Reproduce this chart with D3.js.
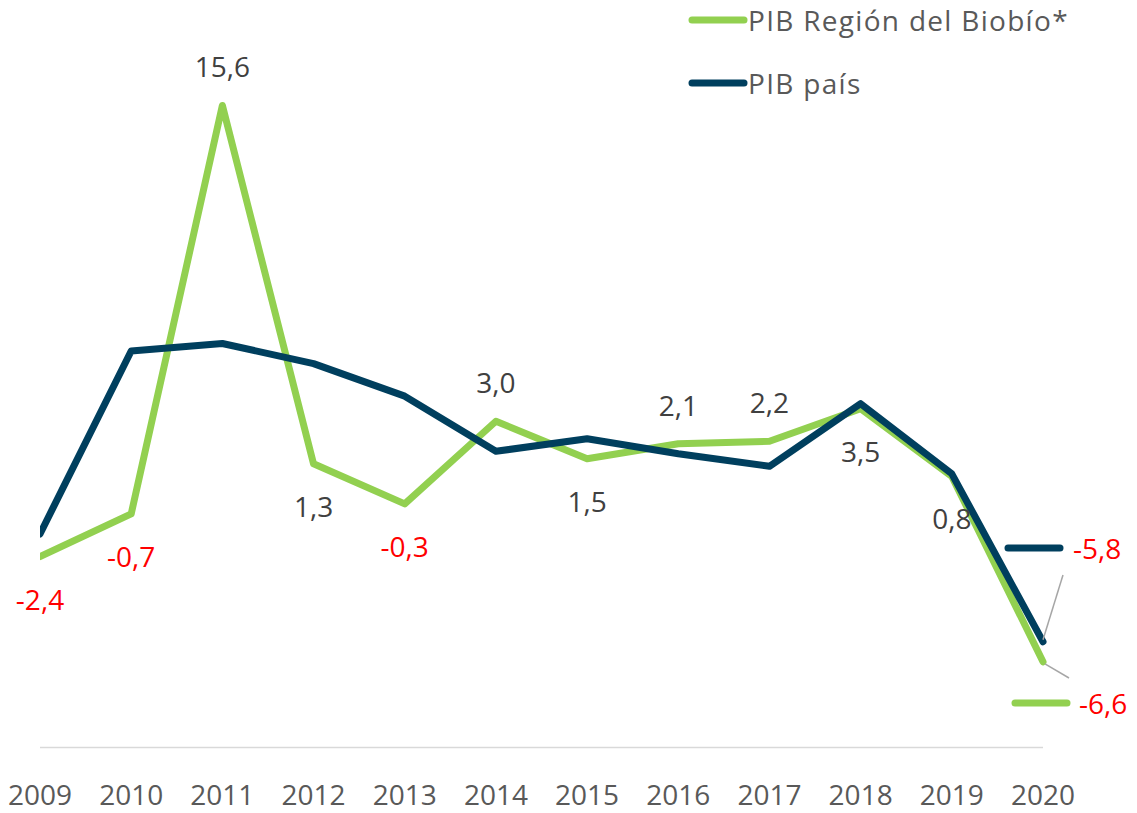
<!DOCTYPE html>
<html>
<head>
<meta charset="utf-8">
<script src="https://cdn.jsdelivr.net/npm/d3@7"></script>
<style>
  body { margin: 0; background: #fff; }
  svg text { font-family: "Open Sans", "Noto Sans", sans-serif; }
</style>
</head>
<body>
<svg id="chart"></svg>
<script>
var width = 1137,
  height = 813;

// data
var years = [2009, 2010, 2011, 2012, 2013, 2014, 2015, 2016, 2017, 2018, 2019, 2020];
var biobio = [-2.4, -0.7, 15.6, 1.3, -0.3, 3.0, 1.5, 2.1, 2.2, 3.5, 0.8, -6.6];
var pais = [-1.5, 5.8, 6.1, 5.3, 4.0, 1.8, 2.3, 1.7, 1.2, 3.7, 0.9, -5.8];
var seriesNames = ['PIB Región del Biobío*', 'PIB país'];

// label side for the green series (last point handled separately)
var labelSide = ['below', 'below', 'above', 'below', 'below', 'above', 'below', 'above', 'above', 'below', 'below', null];

var green = '#92d050',
  blue = '#003f5e';

var svg = d3.select('#chart')
  .attr('width', width)
  .attr('height', height);

var x = d3.scalePoint()
  .domain(years)
  .range([40, 1043]);

var y = d3.scaleLinear()
  .domain([-10, 16])
  .range([747, 747 - 26 * 25.06]);

// comma decimals, plain hyphen for negatives
var fmt = function(v) { return v.toFixed(1).replace('.', ','); };

svg.append('defs').append('clipPath')
  .attr('id', 'clip')
  .append('rect')
  .attr('x', 40)
  .attr('y', 0)
  .attr('width', width - 40)
  .attr('height', height);

// baseline axis
svg.append('line')
  .attr('x1', x(2009))
  .attr('x2', x(2020))
  .attr('y1', 747.5)
  .attr('y2', 747.5)
  .attr('stroke', '#d9d9d9')
  .attr('stroke-width', 1.5);

svg.append('g')
  .selectAll('text')
  .data(years)
  .enter().append('text')
  .attr('x', function(d) { return x(d); })
  .attr('y', 805)
  .attr('text-anchor', 'middle')
  .attr('font-size', 28)
  .attr('fill', '#595959')
  .text(function(d) { return d; });

var line = d3.line()
  .x(function(d, i) { return x(years[i]); })
  .y(function(d) { return y(d); });

var lines = svg.append('g').attr('clip-path', 'url(#clip)');

lines.append('path')
  .datum(biobio)
  .attr('d', line)
  .attr('fill', 'none')
  .attr('stroke', green)
  .attr('stroke-width', 7)
  .attr('stroke-linejoin', 'round')
  .attr('stroke-linecap', 'round');

lines.append('path')
  .datum(pais)
  .attr('d', line)
  .attr('fill', 'none')
  .attr('stroke', blue)
  .attr('stroke-width', 7)
  .attr('stroke-linejoin', 'round')
  .attr('stroke-linecap', 'round');

// data labels for green series
svg.append('g')
  .selectAll('text')
  .data(biobio.slice(0, 11))
  .enter().append('text')
  .attr('x', function(d, i) { return x(years[i]); })
  .attr('y', function(d, i) {
    return labelSide[i] === 'above' ? y(d) - 28 : y(d) + 53;
  })
  .attr('text-anchor', 'middle')
  .attr('font-size', 28)
  .attr('fill', function(d) { return d < 0 ? '#ff0000' : '#404040'; })
  .text(fmt);

// 2020 labels with legend keys and leader lines
var last = years.length - 1;
var endLabels = [
  { v: pais[last], color: blue, ky: 548, lead: [[1063, 575], [x(2020), y(pais[last]) - 2]] },
  { v: biobio[last], color: green, ky: 703, lead: [[x(2020) + 2, y(biobio[last]) + 2], [1069, 678]] }
];

var end = svg.append('g')
  .selectAll('g')
  .data(endLabels)
  .enter().append('g');

end.append('line')
  .attr('x1', function(d, i) { return i === 0 ? 1008 : 1015; })
  .attr('x2', function(d, i) { return i === 0 ? 1060 : 1067; })
  .attr('y1', function(d) { return d.ky; })
  .attr('y2', function(d) { return d.ky; })
  .attr('stroke', function(d) { return d.color; })
  .attr('stroke-width', 7)
  .attr('stroke-linecap', 'round');

end.append('text')
  .attr('x', function(d, i) { return i === 0 ? 1073 : 1079; })
  .attr('y', function(d) { return d.ky + 11; })
  .attr('font-size', 28)
  .attr('fill', '#ff0000')
  .text(function(d) { return fmt(d.v); });

end.append('line')
  .attr('x1', function(d) { return d.lead[0][0]; })
  .attr('y1', function(d) { return d.lead[0][1]; })
  .attr('x2', function(d) { return d.lead[1][0]; })
  .attr('y2', function(d) { return d.lead[1][1]; })
  .attr('stroke', '#a6a6a6')
  .attr('stroke-width', 1.5);

// legend
var legend = svg.append('g')
  .selectAll('g')
  .data(seriesNames)
  .enter().append('g')
  .attr('transform', function(d, i) { return 'translate(690,' + (20 + i * 63) + ')'; });

legend.append('line')
  .attr('x1', 2)
  .attr('x2', 54)
  .attr('stroke', function(d, i) { return i === 0 ? green : blue; })
  .attr('stroke-width', 7)
  .attr('stroke-linecap', 'round');

legend.append('text')
  .attr('x', 58)
  .attr('y', 11)
  .attr('font-size', 28)
  .attr('letter-spacing', 1.3)
  .attr('fill', '#595959')
  .text(function(d) { return d; });
</script>
</body>
</html>
